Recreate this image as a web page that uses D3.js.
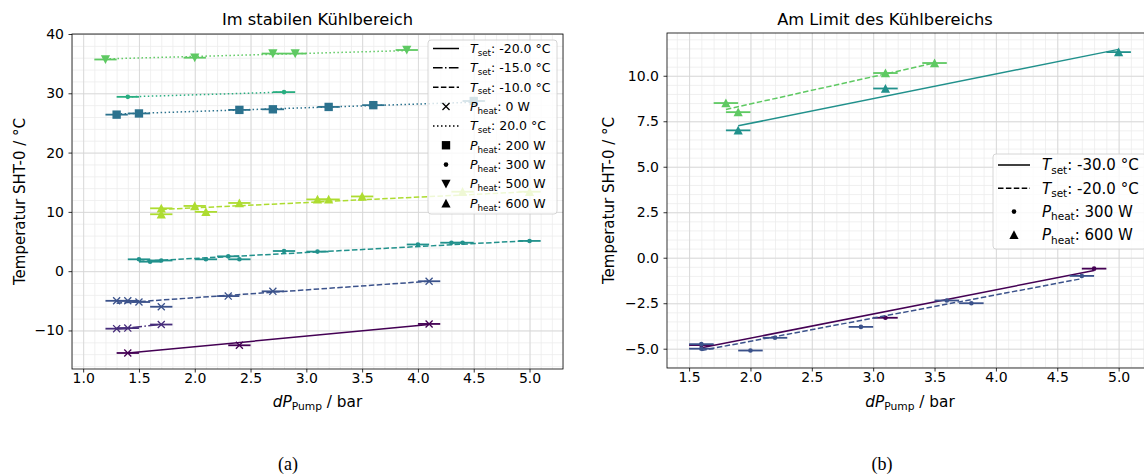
<!DOCTYPE html>
<html>
<head>
<meta charset="utf-8">
<script src="https://cdn.jsdelivr.net/npm/d3@7"></script>
<style>
  body { margin: 0; background: #fff; }
  text { font-family: "DejaVu Sans", sans-serif; fill: #000; }
</style>
</head>
<body>
<script>
// ---------- (a) Im stabilen Kühlbereich : dP_Pump [bar] vs. T SHT-0 [°C] ----------
// fit lines are given by their two end points (x, y)
var aM20p0X = [1.4, 2.4, 4.1];
var aM20p0Y = [-13.8, -12.5, -8.9];
var aM20p0Fit = [[1.4, 4.1], [-13.8, -9.0]];

var aM15p0X = [1.3, 1.4, 1.7];
var aM15p0Y = [-9.7, -9.6, -9.0];
var aM15p0Fit = [[1.3, 1.7], [-9.75, -9.0]];

var aM10p0X = [1.3, 1.4, 1.5, 1.7, 2.3, 2.7, 4.1];
var aM10p0Y = [-5.0, -5.0, -5.2, -6.0, -4.2, -3.4, -1.7];
var aM10p0Fit = [[1.3, 4.1], [-5.4, -1.7]];

var aP20p200X = [1.3, 1.5, 2.4, 2.7, 3.2, 3.6, 4.5];
var aP20p200Y = [26.4, 26.6, 27.2, 27.3, 27.7, 28.0, 28.7];
var aP20p200Fit = [[1.3, 4.5], [26.5, 28.5]];

var aM10p300X = [1.5, 1.6, 1.7, 2.1, 2.3, 2.4, 2.8, 3.1, 4.0, 4.3, 4.4, 5.0];
var aM10p300Y = [2.0, 1.6, 1.8, 2.0, 2.5, 2.0, 3.4, 3.3, 4.5, 4.8, 4.8, 5.1];
var aM10p300Fit = [[1.5, 5.0], [1.65, 5.15]];

var aP20p300X = [1.4, 2.8];
var aP20p300Y = [29.4, 30.2];
var aP20p300Fit = [[1.4, 2.8], [29.4, 30.2]];

var aP20p500X = [1.2, 2.0, 2.7, 2.9, 3.9];
var aP20p500Y = [35.7, 36.0, 36.7, 36.7, 37.3];
var aP20p500Fit = [[1.2, 3.9], [35.8, 37.2]];

var aM10p600X = [1.7, 1.7, 2.0, 2.1, 2.4, 3.1, 3.2, 3.5, 4.4, 5.0];
var aM10p600Y = [10.6, 9.6, 11.0, 10.0, 11.5, 12.1, 12.1, 12.6, 13.4, 13.4];
var aM10p600Fit = [[1.7, 5.0], [10.4, 13.4]];

// ---------- (b) Am Limit des Kühlbereichs ----------
var bM30p300X = [1.6, 3.1, 4.8];
var bM30p300Y = [-4.8, -3.3, -0.6];
var bM30p300Fit = [[1.6, 4.8], [-4.95, -0.7]];

var bM20p300X = [1.6, 1.6, 2.0, 2.2, 2.9, 3.6, 3.8, 4.7];
var bM20p300Y = [-4.75, -5.0, -5.1, -4.4, -3.8, -2.35, -2.5, -1.0];
var bM20p300Fit = [[1.6, 4.7], [-5.1, -1.15]];

var bM30p600X = [1.9, 3.1, 5.0];
var bM30p600Y = [7.0, 9.3, 11.3];
var bM30p600Fit = [[1.9, 5.0], [7.25, 11.45]];

var bM20p600X = [1.8, 1.9, 3.1, 3.5];
var bM20p600Y = [8.5, 8.0, 10.15, 10.7];
var bM20p600Fit = [[1.8, 3.5], [8.15, 10.7]];

var xErr = 0.1;

// ticks
var aXTicks = [1.0, 1.5, 2.0, 2.5, 3.0, 3.5, 4.0, 4.5, 5.0];
var aYTicks = [-10, 0, 10, 20, 30, 40];
var bXTicks = [1.5, 2.0, 2.5, 3.0, 3.5, 4.0, 4.5, 5.0];
var bYTicks = [-5.0, -2.5, 0.0, 2.5, 5.0, 7.5, 10.0];

// legend entries: [style kind, value, label parts]
var aLegend = [
  ['line', 'solid',   ['T', 'set', ': -20.0 °C']],
  ['line', 'dashdot', ['T', 'set', ': -15.0 °C']],
  ['line', 'dashed',  ['T', 'set', ': -10.0 °C']],
  ['mark', 'x',       ['P', 'heat', ': 0 W']],
  ['line', 'dotted',  ['T', 'set', ': 20.0 °C']],
  ['mark', 'square',  ['P', 'heat', ': 200 W']],
  ['mark', 'dot',     ['P', 'heat', ': 300 W']],
  ['mark', 'triDown', ['P', 'heat', ': 500 W']],
  ['mark', 'triUp',   ['P', 'heat', ': 600 W']]
];
var bLegend = [
  ['line', 'solid',  ['T', 'set', ': -30.0 °C']],
  ['line', 'dashed', ['T', 'set', ': -20.0 °C']],
  ['mark', 'dot',    ['P', 'heat', ': 300 W']],
  ['mark', 'triUp',  ['P', 'heat', ': 600 W']]
];

var W = 1144, H = 475;
var svg = d3.select('body').append('svg')
  .attr('width', W).attr('height', H);

var dashes = {
  solid: null,
  dashed: '5.5,2.4',
  dashdot: '9.6,2.4,1.5,2.4',
  dotted: '1.5,2.5'
};

function addMarker(g, type, color) {
  if (type === 'dot') {
    g.append('circle').attr('r', 2.3).attr('fill', color);
  } else if (type === 'x') {
    g.append('path').attr('d', d3.symbol(d3.symbolTimes, 34)())
      .attr('fill', 'none').attr('stroke', color).attr('stroke-width', 1.3);
  } else if (type === 'square') {
    g.append('path').attr('d', d3.symbol(d3.symbolSquare, 70)()).attr('fill', color);
  } else if (type === 'triUp') {
    g.append('path').attr('d', 'M0,-4.6L4.6,4.2L-4.6,4.2Z').attr('fill', color);
  } else if (type === 'triDown') {
    g.append('path').attr('d', 'M0,4.6L4.6,-4.2L-4.6,-4.2Z').attr('fill', color);
  }
}

function richText(g, x, y, parts, fs) {
  var t = g.append('text').attr('x', x).attr('y', y).attr('font-size', fs);
  t.append('tspan').attr('font-style', 'italic').text(parts[0]);
  t.append('tspan').attr('font-size', fs * 0.7).attr('dy', fs * 0.22).text(parts[1]);
  t.append('tspan').attr('dy', -fs * 0.22).text(parts[2]);
  return t;
}

function panel(cfg) {
  var g = svg.append('g');
  var x = d3.scaleLinear().domain(cfg.xDom).range([cfg.x0, cfg.x1]);
  var y = d3.scaleLinear().domain(cfg.yDom).range([cfg.y1, cfg.y0]);
  var h = cfg.y1 - cfg.y0, w = cfg.x1 - cfg.x0;

  // grid (minor then major)
  var gx = g.append('g').attr('transform', 'translate(0,' + cfg.y1 + ')')
    .call(d3.axisBottom(x).tickValues(cfg.xMinor).tickSize(-h).tickFormat(''));
  gx.selectAll('line').attr('stroke', '#ececec').attr('stroke-width', 0.8);
  var gy = g.append('g').attr('transform', 'translate(' + cfg.x0 + ',0)')
    .call(d3.axisLeft(y).tickValues(cfg.yMinor).tickSize(-w).tickFormat(''));
  gy.selectAll('line').attr('stroke', '#ececec').attr('stroke-width', 0.8);
  var gX = g.append('g').attr('transform', 'translate(0,' + cfg.y1 + ')')
    .call(d3.axisBottom(x).tickValues(cfg.xTicks).tickSize(-h).tickFormat(''));
  gX.selectAll('line').attr('stroke', '#d4d4d4').attr('stroke-width', 0.8);
  var gY = g.append('g').attr('transform', 'translate(' + cfg.x0 + ',0)')
    .call(d3.axisLeft(y).tickValues(cfg.yTicks).tickSize(-w).tickFormat(''));
  gY.selectAll('line').attr('stroke', '#d4d4d4').attr('stroke-width', 0.8);
  g.selectAll('.domain').remove();

  var clipId = 'clip' + cfg.id;
  svg.append('clipPath').attr('id', clipId).append('rect')
    .attr('x', cfg.x0).attr('y', cfg.y0).attr('width', w).attr('height', h);
  var plot = g.append('g').attr('clip-path', 'url(#' + clipId + ')');

  cfg.series.forEach(function(s) {
    // fit line
    plot.append('line')
      .attr('x1', x(s.fit[0][0])).attr('y1', y(s.fit[1][0]))
      .attr('x2', x(s.fit[0][1])).attr('y2', y(s.fit[1][1]))
      .attr('stroke', s.color).attr('stroke-width', 1.5)
      .attr('stroke-dasharray', dashes[s.dash]);
    var pts = s.x.map(function(v, i) { return [v, s.y[i]]; });
    // horizontal error bars
    plot.selectAll(null).data(pts).enter().append('line')
      .attr('x1', function(d) { return x(d[0] - xErr); })
      .attr('x2', function(d) { return x(d[0] + xErr); })
      .attr('y1', function(d) { return y(d[1]); })
      .attr('y2', function(d) { return y(d[1]); })
      .attr('stroke', s.color).attr('stroke-width', 1.8);
    plot.selectAll(null).data(pts).enter().append('g')
      .attr('transform', function(d) { return 'translate(' + x(d[0]) + ',' + y(d[1]) + ')'; })
      .each(function() { addMarker(d3.select(this), s.marker, s.color); });
  });

  // spines
  g.append('rect').attr('x', cfg.x0).attr('y', cfg.y0).attr('width', w).attr('height', h)
    .attr('fill', 'none').attr('stroke', '#000').attr('stroke-width', 0.8);

  // axes
  var ax = g.append('g').attr('transform', 'translate(0,' + cfg.y1 + ')')
    .call(d3.axisBottom(x).tickValues(cfg.xTicks).tickSize(3.5).tickPadding(1)
      .tickFormat(d3.format('.1f')));
  var ay = g.append('g').attr('transform', 'translate(' + cfg.x0 + ',0)')
    .call(d3.axisLeft(y).tickValues(cfg.yTicks).tickSize(3.5).tickPadding(4.5)
      .tickFormat(function(d) { return d3.format(cfg.yFmt)(d).replace('-', '\u2212'); }));
  [ax, ay].forEach(function(a) {
    a.select('.domain').remove();
    a.selectAll('line').attr('stroke', '#000').attr('stroke-width', 0.8);
    a.selectAll('text').attr('font-size', 14).attr('font-family', '"DejaVu Sans"').attr('fill', '#000');
  });

  // title
  g.append('text').attr('x', cfg.titleX).attr('y', 25)
    .attr('text-anchor', 'middle').attr('font-size', 16.3).text(cfg.title);
  // x label
  var xl = richText(g, (cfg.x0 + cfg.x1) / 2, 407, ['dP', 'Pump', ' / bar'], 15.3);
  xl.attr('text-anchor', 'middle');
  // y label
  g.append('text').attr('transform', 'translate(' + cfg.yLabX + ',' + ((cfg.y0 + cfg.y1) / 2) + ') rotate(-90)')
    .attr('text-anchor', 'middle').attr('font-size', 15).text('Temperatur SHT-0 / °C');

  // legend
  var L = cfg.legend;
  var lg = g.append('g');
  lg.append('rect').attr('x', L.x).attr('y', L.y).attr('width', L.w).attr('height', L.h)
    .attr('rx', 3).attr('fill', '#fff').attr('fill-opacity', 0.8)
    .attr('stroke', '#cccccc').attr('stroke-width', 0.8);
  L.items.forEach(function(it, i) {
    var cy = L.row0 + i * L.dy;
    if (it[0] === 'line') {
      lg.append('line').attr('x1', L.hx0).attr('x2', L.hx1).attr('y1', cy).attr('y2', cy)
        .attr('stroke', '#000').attr('stroke-width', 1.5)
        .attr('stroke-dasharray', dashes[it[1]]);
    } else {
      var m = lg.append('g').attr('transform', 'translate(' + ((L.hx0 + L.hx1) / 2) + ',' + cy + ')');
      addMarker(m, it[1], '#000');
    }
    richText(lg, L.tx, cy + L.fs * 0.36, it[2], L.fs);
  });
}

var viridis8 = function(i) { return d3.interpolateViridis(i / 8); };
var viridis4 = function(i) { return d3.interpolateViridis(i / 4); };

panel({
  id: 'a', title: 'Im stabilen Kühlbereich', titleX: 317.5,
  x0: 72, x1: 563, y0: 34, y1: 369,
  xDom: [0.9, 5.3], yDom: [-16.5, 40],
  xTicks: aXTicks, yTicks: aYTicks, yFmt: 'd',
  xMinor: d3.range(9, 54).map(function(v) { return v / 10; }),
  yMinor: d3.range(-16, 41, 2),
  yLabX: 25,
  series: [
    { x: aM20p0X, y: aM20p0Y, fit: aM20p0Fit, color: viridis8(0), dash: 'solid', marker: 'x' },
    { x: aM15p0X, y: aM15p0Y, fit: aM15p0Fit, color: viridis8(1), dash: 'dashdot', marker: 'x' },
    { x: aM10p0X, y: aM10p0Y, fit: aM10p0Fit, color: viridis8(2), dash: 'dashed', marker: 'x' },
    { x: aP20p200X, y: aP20p200Y, fit: aP20p200Fit, color: viridis8(3), dash: 'dotted', marker: 'square' },
    { x: aM10p300X, y: aM10p300Y, fit: aM10p300Fit, color: viridis8(4), dash: 'dashed', marker: 'dot' },
    { x: aP20p300X, y: aP20p300Y, fit: aP20p300Fit, color: viridis8(5), dash: 'dotted', marker: 'dot' },
    { x: aP20p500X, y: aP20p500Y, fit: aP20p500Fit, color: viridis8(6), dash: 'dotted', marker: 'triDown' },
    { x: aM10p600X, y: aM10p600Y, fit: aM10p600Fit, color: viridis8(7), dash: 'dashed', marker: 'triUp' }
  ],
  legend: { x: 428, y: 40, w: 129, h: 174, row0: 48.5, dy: 19.35, hx0: 433, hx1: 459, tx: 470, fs: 12.5, items: aLegend }
});

panel({
  id: 'b', title: 'Am Limit des Kühlbereichs', titleX: 885,
  x0: 667, x1: 1153, y0: 33, y1: 368,
  xDom: [1.32, 5.28], yDom: [-6.06, 12.35],
  xTicks: bXTicks, yTicks: bYTicks, yFmt: '.1f',
  xMinor: d3.range(14, 53).map(function(v) { return v / 10; }),
  yMinor: d3.range(-12, 25).map(function(v) { return v / 2; }),
  yLabX: 614,
  series: [
    { x: bM30p300X, y: bM30p300Y, fit: bM30p300Fit, color: viridis4(0), dash: 'solid', marker: 'dot' },
    { x: bM20p300X, y: bM20p300Y, fit: bM20p300Fit, color: viridis4(1), dash: 'dashed', marker: 'dot' },
    { x: bM30p600X, y: bM30p600Y, fit: bM30p600Fit, color: viridis4(2), dash: 'solid', marker: 'triUp' },
    { x: bM20p600X, y: bM20p600Y, fit: bM20p600Fit, color: viridis4(3), dash: 'dashed', marker: 'triUp' }
  ],
  legend: { x: 993, y: 154, w: 153, h: 95, row0: 165, dy: 23.3, hx0: 998, hx1: 1030, tx: 1042, fs: 15, items: bLegend }
});

// sub-figure captions
svg.append('text').attr('x', 288).attr('y', 470).attr('text-anchor', 'middle')
  .style('font-family', '"Liberation Serif", serif').attr('font-size', 18).text('(a)');
svg.append('text').attr('x', 882).attr('y', 470).attr('text-anchor', 'middle')
  .style('font-family', '"Liberation Serif", serif').attr('font-size', 18).text('(b)');
</script>
</body>
</html>
